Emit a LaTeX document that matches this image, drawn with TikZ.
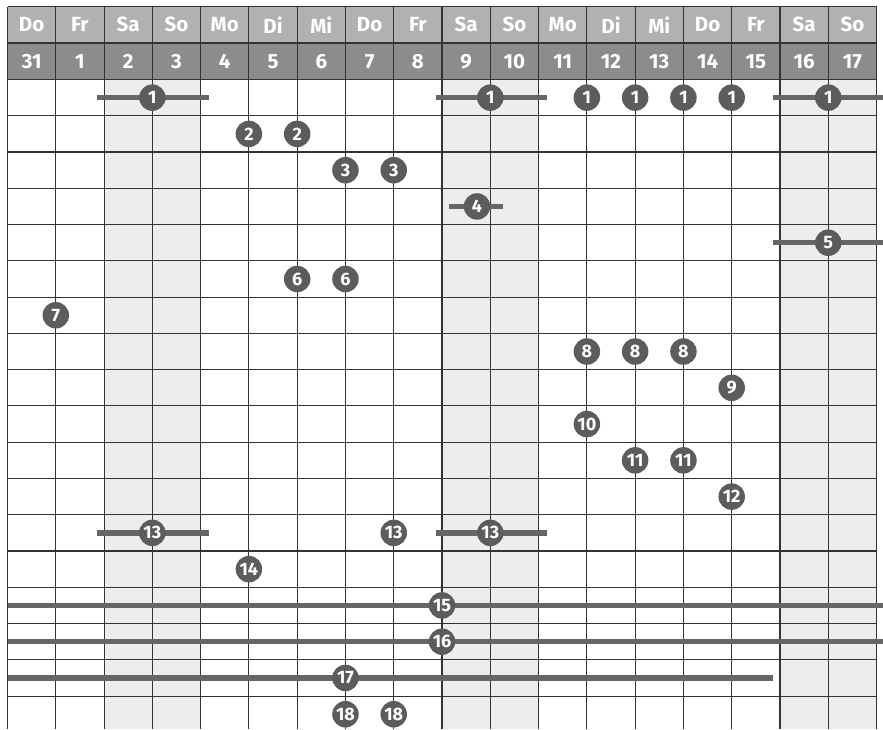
\documentclass[tikz,border=0pt]{standalone}
\usepackage{fontspec}
\setmainfont{Fira Sans}
\definecolor{hdrA}{HTML}{B1B1B3}
\definecolor{hdrB}{HTML}{8C8C8C}
\definecolor{wkend}{HTML}{EDEDED}
\definecolor{gridc}{HTML}{333333}
\definecolor{markc}{HTML}{5C5C5C}
\definecolor{barc}{HTML}{666666}
\newcommand{\cw}{48.28}
\newcommand{\rh}{36.27}
\newcommand{\rowy}[1]{79.5+(#1-0.5)*\rh}
\newcommand{\mkpt}[4]{\node[mk] (#1) at ({7.5+#2*\cw},{\rowy{#3}}) {#4};}
\begin{document}
\begin{tikzpicture}[x=1pt,y=-1pt,
  gridline/.style={draw=gridc,line width=1.1pt},
  hdrtext/.style={text=white,font=\fontsize{20.5}{20.5}\selectfont\bfseries,inner sep=0pt},
  mk/.style={circle,fill=markc,text=white,inner sep=0pt,minimum size=26.5pt,font=\fontsize{18}{18}\selectfont\bfseries},
  barline/.style={draw=barc,line width=5.5pt}]
\useasboundingbox (0,0) rectangle (883,729);
% header fills
\fill[hdrA] (7.5,6.5) rectangle (876.5,43);
\fill[hdrB] (7.5,43) rectangle (876.5,79.5);
% weekend shading
\foreach \i in {2,9,16}
  \fill[wkend] ({7.5+\i*\cw},79.5) rectangle ({7.5+(\i+2)*\cw},729);
% grid
\foreach \i in {0,...,18}
  \draw[gridline] ({7.5+\i*\cw},6.5) -- ({7.5+\i*\cw},729);
\draw[gridline] (7.5,6.5) -- (876.5,6.5);
\draw[gridline] (7.5,43) -- (876.5,43);
\foreach \k in {0,...,17}
  \draw[gridline] (7.5,{79.5+\k*\rh}) -- (876.5,{79.5+\k*\rh});
% header texts
\foreach \d [count=\i from 0] in {Do,Fr,Sa,So,Mo,Di,Mi,Do,Fr,Sa,So,Mo,Di,Mi,Do,Fr,Sa,So}
  \node[hdrtext] (wd\i) at ({7.5+(\i+0.5)*\cw},24.75) {\d};
\foreach \d [count=\i from 0] in {31,1,2,3,4,5,6,7,8,9,10,11,12,13,14,15,16,17}
  \node[hdrtext] (dt\i) at ({7.5+(\i+0.5)*\cw},61.25) {\d};
% bar end coordinates
\coordinate (b1aL) at (97,{\rowy{1}});   \coordinate (b1aR) at (209,{\rowy{1}});
\coordinate (b1bL) at (435.5,{\rowy{1}}); \coordinate (b1bR) at (547,{\rowy{1}});
\coordinate (b1cL) at (772.7,{\rowy{1}}); \coordinate (b1cR) at (883,{\rowy{1}});
\coordinate (b4L) at (449,{\rowy{4}});   \coordinate (b4R) at (503,{\rowy{4}});
\coordinate (b5L) at (772.7,{\rowy{5}}); \coordinate (b5R) at (883,{\rowy{5}});
\coordinate (b13aL) at (97,{\rowy{13}});   \coordinate (b13aR) at (209,{\rowy{13}});
\coordinate (b13bL) at (435.5,{\rowy{13}}); \coordinate (b13bR) at (547,{\rowy{13}});
\coordinate (b15L) at (7.5,{\rowy{15}}); \coordinate (b15R) at (883,{\rowy{15}});
\coordinate (b16L) at (7.5,{\rowy{16}}); \coordinate (b16R) at (883,{\rowy{16}});
\coordinate (b17L) at (7.5,{\rowy{17}}); \coordinate (b17R) at (772.7,{\rowy{17}});
\draw[barline] (b1aL) -- (b1aR);
\draw[barline] (b1bL) -- (b1bR);
\draw[barline] (b1cL) -- (b1cR);
\draw[barline] (b4L) -- (b4R);
\draw[barline] (b5L) -- (b5R);
\draw[barline] (b13aL) -- (b13aR);
\draw[barline] (b13bL) -- (b13bR);
\draw[barline] (b15L) -- (b15R);
\draw[barline] (b16L) -- (b16R);
\draw[barline] (b17L) -- (b17R);
% markers
\mkpt{m1a}{3}{1}{1}
\mkpt{m1b}{10}{1}{1}
\mkpt{m1c}{12}{1}{1}
\mkpt{m1d}{13}{1}{1}
\mkpt{m1e}{14}{1}{1}
\mkpt{m1f}{15}{1}{1}
\mkpt{m1g}{17}{1}{1}
\mkpt{m2a}{5}{2}{2}
\mkpt{m2b}{6}{2}{2}
\mkpt{m3a}{7}{3}{3}
\mkpt{m3b}{8}{3}{3}
\node[mk] (m4) at (477,{\rowy{4}}) {4};
\mkpt{m5}{17}{5}{5}
\mkpt{m6a}{6}{6}{6}
\mkpt{m6b}{7}{6}{6}
\mkpt{m7}{1}{7}{7}
\mkpt{m8a}{12}{8}{8}
\mkpt{m8b}{13}{8}{8}
\mkpt{m8c}{14}{8}{8}
\mkpt{m9}{15}{9}{9}
\mkpt{m10}{12}{10}{10}
\mkpt{m11a}{13}{11}{11}
\mkpt{m11b}{14}{11}{11}
\mkpt{m12}{15}{12}{12}
\mkpt{m13a}{3}{13}{13}
\mkpt{m13b}{8}{13}{13}
\mkpt{m13c}{10}{13}{13}
\mkpt{m14}{5}{14}{14}
\mkpt{m15}{9}{15}{15}
\mkpt{m16}{9}{16}{16}
\mkpt{m17}{7}{17}{17}
\mkpt{m18a}{7}{18}{18}
\mkpt{m18b}{8}{18}{18}
\end{tikzpicture}
\end{document}
